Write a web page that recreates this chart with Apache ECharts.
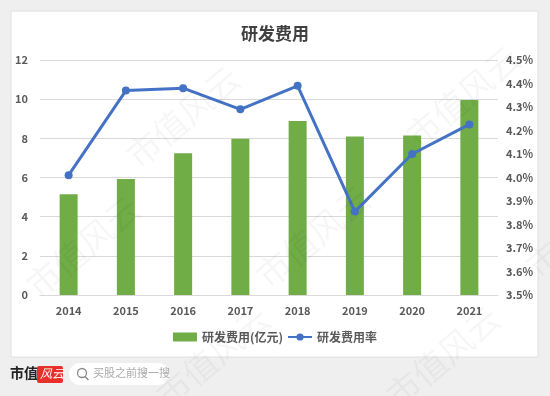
<!DOCTYPE html>
<html><head><meta charset="utf-8">
<script src="https://cdn.jsdelivr.net/npm/echarts@6/dist/echarts.min.js"></script>
<style>html,body{margin:0;padding:0;background:#efefef;}#c{width:550px;height:396px;}</style>
</head><body><div id="c"></div>
<script>
const categories = ['2014','2015','2016','2017','2018','2019','2020','2021'];
const rdExpense = [5.14, 5.92, 7.24, 7.98, 8.89, 8.09, 8.14, 9.96];
const rdRate = [4.01, 4.37, 4.38, 4.29, 4.39, 3.855, 4.10, 4.226];
const leftTicks = {min: 0, max: 12, interval: 2};
const rightTicks = {min: 3.5, max: 4.5, interval: 0.1};

const chart = echarts.init(document.getElementById('c'));
const wm = [];
const wmPos = [[120,60],[400,40],[20,190],[250,180],[520,170],[150,300],[380,300]];
wmPos.forEach(p => wm.push({type:'text', left:p[0], top:p[1], rotation: Math.PI/4.5, z:100,
  style:{text:'市值风云', fill:'rgba(0,0,0,0.035)', font:'34px "Noto Sans CJK SC"'}}));

chart.setOption({
  backgroundColor: '#efefef',
  textStyle: {fontFamily: '"Noto Sans CJK SC", sans-serif'},
  graphic: [
    {type:'rect', shape:{x:11, y:11, width:527, height:346}, style:{fill:'#fff', stroke:'#e0e0e0', lineWidth:1}, z:-10},
    {type:'text', left:10, top:366, style:{text:'市值', fill:'#222', font:'bold 14px "Noto Sans CJK SC"'}},
    {type:'rect', shape:{x:37, y:366, width:26, height:17, r:2}, style:{fill:'#e8302a'}},
    {type:'text', left:40, top:367, style:{text:'风云', fill:'#fff', font:'italic 12px "Noto Sans CJK SC"'}},
    {type:'rect', shape:{x:69, y:363, width:100, height:22, r:11}, style:{fill:'#fff'}},
    {type:'circle', shape:{cx:82, cy:373, r:4.5}, style:{fill:'none', stroke:'#888', lineWidth:1.3}},
    {type:'line', shape:{x1:85, y1:376.5, x2:88.5, y2:380}, style:{stroke:'#888', lineWidth:1.5}},
    {type:'text', left:93, top:367, style:{text:'买股之前搜一搜', fill:'#aaa', font:'11px "Noto Sans CJK SC"'}},
    ...wm
  ],
  title: {text:'研发费用', left:'center', top:20,
    textStyle:{color:'#404040', fontSize:17, fontWeight:'bold', fontFamily:'"Noto Sans CJK SC"'}},
  legend: {bottom: 48, left: 'center', itemGap: 4, itemWidth: 24, itemHeight: 9,
    textStyle:{color:'#595959', fontSize:12, fontWeight:'bold'},
    data:[{name:'研发费用(亿元)', icon:'rect'}, {name:'研发费用率'}]},
  grid: {left: 40, right: 52, top: 60, bottom: 101},
  xAxis: {type:'category', data: categories,
    axisLine:{lineStyle:{color:'#d9d9d9'}}, axisTick:{show:false},
    axisLabel:{color:'#595959', fontSize:11, fontWeight:'bold', margin:10}},
  yAxis: [
    {type:'value', min:leftTicks.min, max:leftTicks.max, interval:leftTicks.interval,
      axisLabel:{color:'#595959', fontSize:11, fontWeight:'bold', margin:12},
      splitLine:{lineStyle:{color:'#d9d9d9'}}, axisLine:{show:false}},
    {type:'value', min:rightTicks.min, max:rightTicks.max, interval:rightTicks.interval,
      axisLabel:{color:'#595959', fontSize:11, fontWeight:'bold', margin:8,
        formatter: v => v.toFixed(1) + '%'},
      splitLine:{show:false}, axisLine:{show:false}}
  ],
  series: [
    {name:'研发费用(亿元)', type:'bar', data: rdExpense, barWidth: 18,
      itemStyle:{color:'#70ad47'}},
    {name:'研发费用率', type:'line', yAxisIndex:1, data: rdRate,
      symbol:'circle', symbolSize:8,
      lineStyle:{color:'#4472c4', width:3}, itemStyle:{color:'#4472c4'}}
  ]
});
</script></body></html>
